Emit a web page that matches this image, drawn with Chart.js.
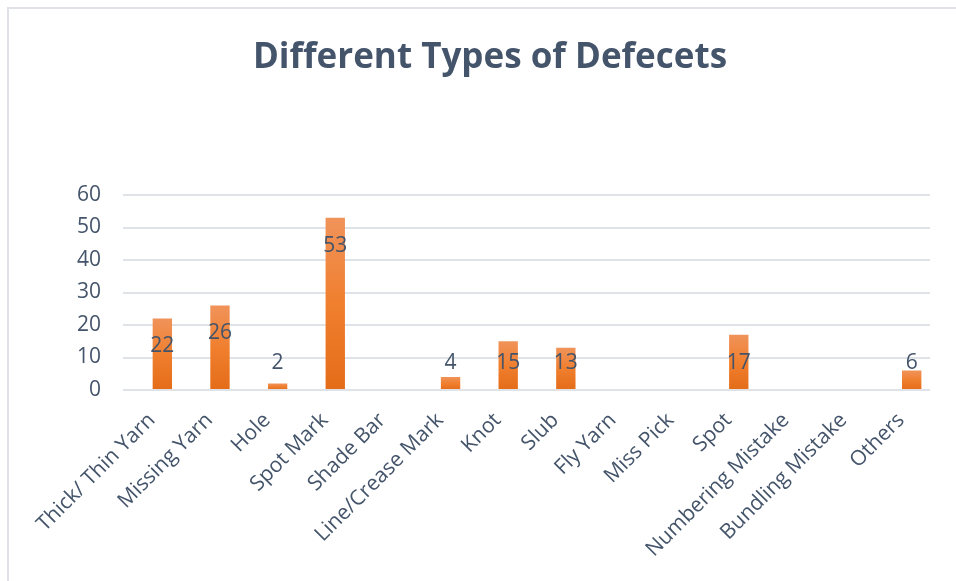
<!DOCTYPE html>
<html>
<head>
<meta charset="utf-8">
<script src="https://cdn.jsdelivr.net/npm/chart.js@4.4.1/dist/chart.umd.min.js"></script>
<style>
  html, body { margin: 0; padding: 0; background: #fff; }
  #wrap { position: relative; width: 956px; height: 581px; }
  #frame {
    position: absolute; left: 7px; top: 7px; right: 0; bottom: 0;
    border-top: 2px solid #dfe3e8; border-left: 2px solid #dfe3e8;
  }
  #chart_defects { position: absolute; left: 0; top: 0; }
</style>
</head>
<body>
<div id="wrap">
  <div id="frame"></div>
  <canvas id="chart_defects" width="956" height="581"></canvas>
</div>
<script>
// defect categories and counts (blank cells stay null, no label drawn)
var categories = ['Thick/ Thin Yarn', 'Missing Yarn', 'Hole', 'Spot Mark', 'Shade Bar',
  'Line/Crease Mark', 'Knot', 'Slub', 'Fly Yarn', 'Miss Pick', 'Spot',
  'Numbering Mistake', 'Bundling Mistake', 'Others'];
var defectCounts = [22, 26, 2, 53, null, 4, 15, 13, null, null, 17, null, null, 6];
// second column of the sheet was left empty, it still takes a slot in each group
var emptyColumn = [];
var yTicks = [0, 10, 20, 30, 40, 50, 60];

var textColor = '#44546a';

// per-bar orange gradient, lighter at the top
function barGradient(context) {
  var chart = context.chart;
  var v = context.raw;
  if (v === null || v === undefined || !chart.chartArea) return '#ef7d2d';
  var ys = chart.scales.y;
  var top = ys.getPixelForValue(v);
  var base = ys.getPixelForValue(0);
  var g = chart.ctx.createLinearGradient(0, top, 0, base);
  g.addColorStop(0, '#f0935a');
  g.addColorStop(0.5, '#f07f2e');
  g.addColorStop(1, '#e46c19');
  return g;
}

// value labels just inside the bar end, kept off the axis for short bars
var valueLabels = {
  id: 'valueLabels',
  afterDatasetsDraw: function (chart) {
    var ctx = chart.ctx;
    var meta = chart.getDatasetMeta(1);
    ctx.save();
    ctx.font = '21px "Open Sans"';
    ctx.fillStyle = textColor;
    ctx.textAlign = 'center';
    ctx.textBaseline = 'middle';
    meta.data.forEach(function (bar, i) {
      var v = defectCounts[i];
      if (v === null) return;
      var y = Math.min(bar.y + 28, bar.base - 26);
      ctx.fillText(String(v), bar.x, y);
    });
    ctx.restore();
  }
};

var ctx = document.getElementById('chart_defects').getContext('2d');
var chart = new Chart(ctx, {
  type: 'bar',
  data: {
    labels: categories,
    datasets: [
      { label: '', data: emptyColumn },
      {
        label: 'Defects',
        data: defectCounts,
        backgroundColor: barGradient,
        borderWidth: 0
      }
    ]
  },
  options: {
    responsive: false,
    animation: false,
    categoryPercentage: 0.73,
    barPercentage: 0.92,
    layout: { padding: { top: 0, left: 50, right: 26, bottom: 0 } },
    plugins: {
      legend: { display: false },
      tooltip: { enabled: false },
      title: {
        display: true,
        text: 'Different Types of Defecets',
        color: textColor,
        font: { family: 'Open Sans', size: 35, weight: 'bold' },
        padding: { top: 37, bottom: 116 }
      }
    },
    scales: {
      x: {
        grid: { display: false },
        border: { display: false },
        afterFit: function (scale) { scale.height = 191; },
        ticks: {
          color: textColor,
          font: { family: 'Open Sans', size: 21 },
          maxRotation: 45,
          minRotation: 45,
          autoSkip: false,
          padding: 10
        }
      },
      y: {
        min: 0,
        max: 60,
        afterFit: function (scale) { scale.width = 73; },
        afterBuildTicks: function (scale) {
          scale.ticks = yTicks.map(function (v) { return { value: v }; });
        },
        border: { display: false },
        grid: { color: '#dfe3e8', lineWidth: 2, drawTicks: false },
        ticks: {
          color: textColor,
          font: { family: 'Open Sans', size: 21 },
          padding: 22
        }
      }
    }
  },
  plugins: [valueLabels]
});
</script>
</body>
</html>
